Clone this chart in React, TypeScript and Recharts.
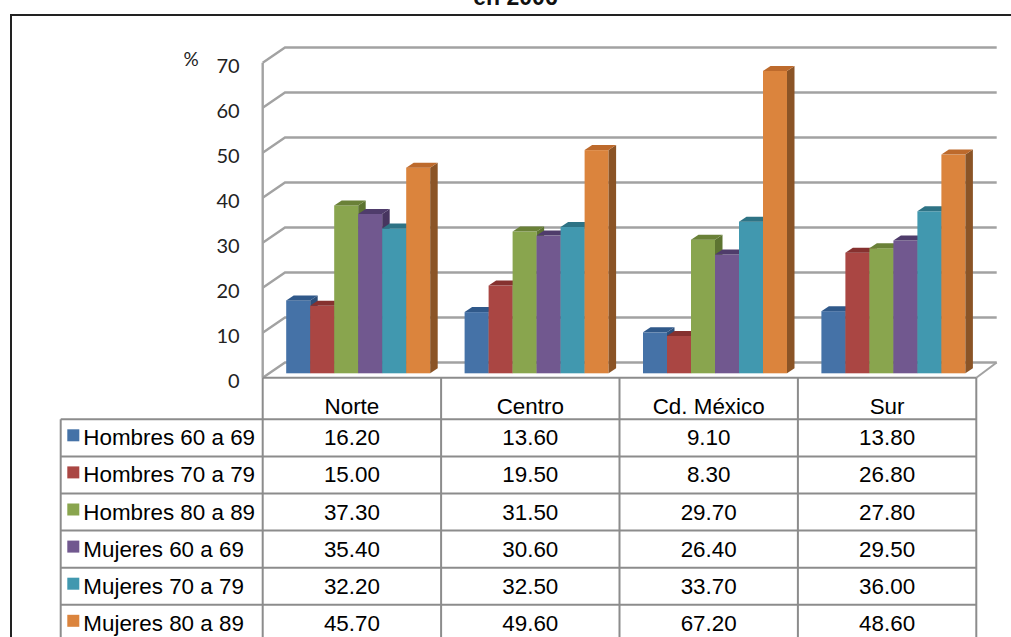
import { BarChart, Bar, XAxis, YAxis, CartesianGrid } from 'recharts'

const categories = ['Norte', 'Centro', 'Cd. México', 'Sur']
const seriesNames = ['Hombres 60 a 69', 'Hombres 70 a 79', 'Hombres 80 a 89', 'Mujeres 60 a 69', 'Mujeres 70 a 79', 'Mujeres 80 a 89']
const hombres6069 = [16.2, 13.6, 9.1, 13.8]
const hombres7079 = [15.0, 19.5, 8.3, 26.8]
const hombres8089 = [37.3, 31.5, 29.7, 27.8]
const mujeres6069 = [35.4, 30.6, 26.4, 29.5]
const mujeres7079 = [32.2, 32.5, 33.7, 36.0]
const mujeres8089 = [45.7, 49.6, 67.2, 48.6]
const yTicks = [0, 10, 20, 30, 40, 50, 60, 70]

const seriesValues = [hombres6069, hombres7079, hombres8089, mujeres6069, mujeres7079, mujeres8089]
const seriesKeys = ['h6069', 'h7079', 'h8089', 'm6069', 'm7079', 'm8089']
const frontColors = ['#4572A7', '#AA4643', '#89A54E', '#71588F', '#4198AF', '#DB843D']
const topColors = ['#30598a', '#86312f', '#6a8138', '#4f3c6b', '#2e7385', '#bd6a2c']
const sideColors = ['#2c4f7a', '#7a2b29', '#5d7431', '#47355f', '#296676', '#8b5426']

const chartData = categories.map((cat, i) => {
  const row: Record<string, string | number> = { cat }
  seriesKeys.forEach((k, s) => { row[k] = seriesValues[s][i] })
  return row
})

// plot area = front plane of the 3d box
const W = 1011
const H = 637
const Y_AXIS_W = 60
const PLOT_LEFT = 262.7
const PLOT_TOP = 62.7
const PLOT_RIGHT = 976.3
const PLOT_BOTTOM = 377.7
const WALL_DX = 22.3
const WALL_DY = -15.2
const BAR_SHIFT_X = 6.5
const BAR_SHIFT_Y = -4.4
const BAR_DX = 7.5
const BAR_DY = -5
const GRID = '#a2a2a2'
const TABLE_LINE = '#8c8c8c'

function makeShape(s: number) {
  return (p: any) => {
    const x = p.x + BAR_SHIFT_X
    const y = p.y + BAR_SHIFT_Y
    const w = p.width
    const h = p.height
    return (
      <g>
        <rect x={x} y={y} width={w} height={h} fill={frontColors[s]} />
        <polygon points={`${x + w},${y} ${x + w + BAR_DX},${y + BAR_DY} ${x + w + BAR_DX},${y + h + BAR_DY} ${x + w},${y + h}`} fill={sideColors[s]} />
        <polygon points={`${x},${y} ${x + BAR_DX},${y + BAR_DY} ${x + w + BAR_DX},${y + BAR_DY} ${x + w},${y}`} fill={topColors[s]} />
      </g>
    )
  }
}

function gridLine(p: any) {
  const y = p.y1
  const isFloor = Math.abs(y - PLOT_BOTTOM) < 1
  return (
    <g key={p.key}>
      <polyline
        points={`${p.x1},${y} ${p.x1 + WALL_DX},${y + WALL_DY} ${p.x2 + 20.4},${y + WALL_DY}`}
        fill="none" stroke={GRID} strokeWidth={2.4}
      />
      {isFloor && (
        <polyline points={`${p.x2},${y} ${p.x2 + 20.4},${y + WALL_DY}`} fill="none" stroke={GRID} strokeWidth={2} />
      )}
    </g>
  )
}

function yTick(p: any) {
  return (
    <text key={p.index} x={PLOT_LEFT - 23} y={p.y + 2.5} textAnchor="end" dominantBaseline="central"
      fontFamily="Lato" fontSize={20} fill="#222">
      {p.payload.value}
    </text>
  )
}

function DataTable() {
  const band = (PLOT_RIGHT - PLOT_LEFT) / categories.length
  const colX = [60.7, ...categories.map((_, i) => PLOT_LEFT + i * band), PLOT_RIGHT]
  const rowTop = 419.3
  const rowH = 37.1
  const rows = seriesNames.map((_, i) => rowTop + i * rowH)
  const bottom = rowTop + seriesNames.length * rowH
  const font = { fontFamily: '"Liberation Sans", Arial, sans-serif', fontSize: 22.4, fill: '#000' }
  return (
    <svg width={W} height={H} style={{ position: 'absolute', left: 0, top: 0, pointerEvents: 'none' }}>
      <text x={191} y={58.5} textAnchor="middle" dominantBaseline="central" fontFamily="Lato" fontSize={19} fill="#222">%</text>
      <line x1={PLOT_LEFT} y1={PLOT_BOTTOM} x2={PLOT_RIGHT} y2={PLOT_BOTTOM} stroke={TABLE_LINE} strokeWidth={2} />
      {[...rows, bottom].map((y, i) => (
        <line key={'h' + i} x1={colX[0]} y1={y} x2={PLOT_RIGHT} y2={y} stroke={TABLE_LINE} strokeWidth={2} />
      ))}
      <line x1={colX[0]} y1={rowTop} x2={colX[0]} y2={bottom} stroke={TABLE_LINE} strokeWidth={2} />
      {colX.slice(1).map((x, i) => (
        <line key={'v' + i} x1={x} y1={PLOT_BOTTOM} x2={x} y2={bottom} stroke={TABLE_LINE} strokeWidth={2} />
      ))}
      {categories.map((c, i) => (
        <text key={c} x={colX[i + 1] + band / 2} y={414} textAnchor="middle" {...font}>{c}</text>
      ))}
      {seriesNames.map((name, s) => (
        <g key={name}>
          <rect x={67.3} y={rows[s] + 10} width={12} height={12} fill={frontColors[s]} />
          <text x={83.3} y={rows[s] + 26} {...font}>{name}</text>
          {seriesValues[s].map((v, i) => (
            <text key={i} x={colX[i + 1] + band / 2} y={rows[s] + 26} textAnchor="middle" {...font}>{v.toFixed(2)}</text>
          ))}
        </g>
      ))}
    </svg>
  )
}

export default function App() {
  return (
    <div style={{ position: 'absolute', left: 0, top: 0, width: W, height: H, background: '#fff', overflow: 'hidden' }}>
      <div style={{
        position: 'absolute', left: 0, top: -14, width: W, textAlign: 'center',
        fontFamily: '"Liberation Sans", Arial, sans-serif', fontWeight: 'bold', fontSize: 23, color: '#111', lineHeight: '23px',
        paddingLeft: 20, boxSizing: 'border-box',
      }}>
        en 2006
      </div>
      <div style={{
        position: 'absolute', left: 10, top: 14, width: W, height: H,
        borderLeft: '2.4px solid #222', borderTop: '2.4px solid #222',
      }} />
      <div style={{ position: 'absolute', left: 0, top: 0 }}>
        <BarChart
          width={W} height={H} data={chartData}
          margin={{ top: PLOT_TOP, left: PLOT_LEFT - Y_AXIS_W, right: W - PLOT_RIGHT, bottom: H - PLOT_BOTTOM }}
          barCategoryGap={17} barGap={0}
        >
          <CartesianGrid vertical={false} horizontal={gridLine} />
          <XAxis dataKey="cat" hide />
          <YAxis
            width={Y_AXIS_W} domain={[0, 70]} ticks={yTicks} interval={0}
            tickLine={false} tick={yTick}
            axisLine={{ stroke: GRID, strokeWidth: 2.4 }}
          />
          {seriesKeys.map((k, s) => (
            <Bar key={k} dataKey={k} name={seriesNames[s]} fill={frontColors[s]} shape={makeShape(s)} isAnimationActive={false} />
          ))}
        </BarChart>
      </div>
      <DataTable />
    </div>
  )
}
